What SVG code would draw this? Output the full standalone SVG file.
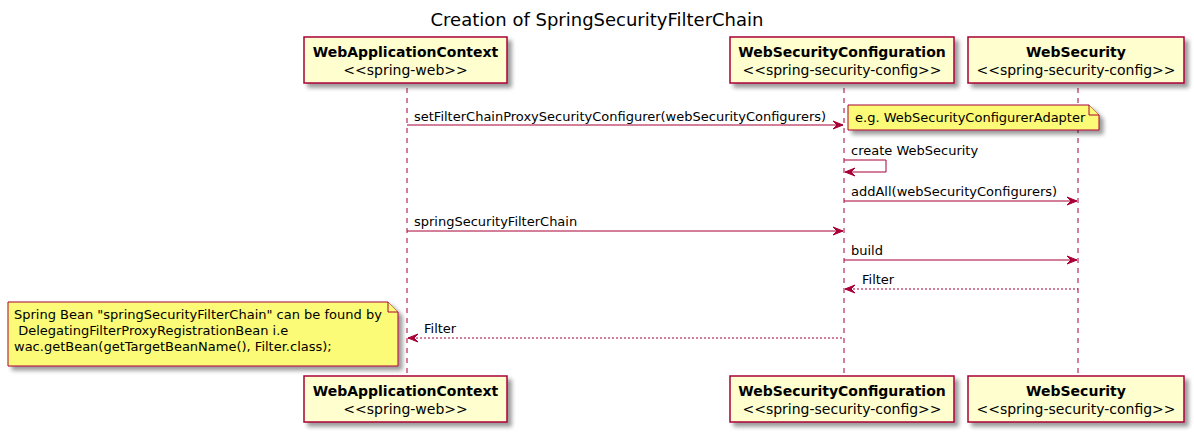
<svg xmlns="http://www.w3.org/2000/svg" width="1194" height="432" viewBox="0 0 1194 432">
<style>
text{font-family:"DejaVu Sans","Verdana",sans-serif;fill:#000}
.title{font-size:18px}
.pname{font-size:14px;font-weight:bold}
.stereo{font-size:14px}
.msg{font-size:13px}
.pbox{fill:#FEFECE;stroke:#A80036;stroke-width:1.5}
.note{fill:#FBFB77;stroke:#A80036;stroke-width:1}
.life{stroke:#A80036;stroke-width:1;stroke-dasharray:5,5;fill:none}
.line{stroke:#A80036;stroke-width:1;fill:none}
.dash{stroke:#A80036;stroke-width:1;fill:none;stroke-dasharray:2,2}
.head{fill:#A80036;stroke:#A80036;stroke-width:1}
</style>
<defs>
<filter id="sh" x="-10%" y="-10%" width="130%" height="150%">
<feGaussianBlur in="SourceAlpha" stdDeviation="2"/>
<feOffset dx="4" dy="4" result="b"/>
<feComponentTransfer><feFuncA type="linear" slope="0.4"/></feComponentTransfer>
<feMerge><feMergeNode/><feMergeNode in="SourceGraphic"/></feMerge>
</filter>
</defs>
<rect width="1194" height="432" fill="#FFFFFF"/>
<text class="title" x="597" y="26" text-anchor="middle">Creation of SpringSecurityFilterChain</text>

<g id="lifelines">
<line class="life" x1="407" y1="88" x2="407" y2="376"/>
<line class="life" x1="844" y1="88" x2="844" y2="376"/>
<line class="life" x1="1078" y1="88" x2="1078" y2="376"/>
</g>

<g id="p-wac-top">
<rect class="pbox" x="304" y="37" width="203" height="46" filter="url(#sh)"/>
<text class="pname" x="405.5" y="57" text-anchor="middle">WebApplicationContext</text>
<text class="stereo" x="405.5" y="75" text-anchor="middle">&lt;&lt;spring-web&gt;&gt;</text>
</g>
<g id="p-wsc-top">
<rect class="pbox" x="730" y="37" width="224" height="46" filter="url(#sh)"/>
<text class="pname" x="842" y="57" text-anchor="middle">WebSecurityConfiguration</text>
<text class="stereo" x="842" y="75" text-anchor="middle">&lt;&lt;spring-security-config&gt;&gt;</text>
</g>
<g id="p-ws-top">
<rect class="pbox" x="968" y="37" width="216" height="46" filter="url(#sh)"/>
<text class="pname" x="1076" y="57" text-anchor="middle">WebSecurity</text>
<text class="stereo" x="1076" y="75" text-anchor="middle">&lt;&lt;spring-security-config&gt;&gt;</text>
</g>

<g id="p-wac-bottom">
<rect class="pbox" x="304" y="376" width="203" height="46" filter="url(#sh)"/>
<text class="pname" x="405.5" y="396" text-anchor="middle">WebApplicationContext</text>
<text class="stereo" x="405.5" y="414" text-anchor="middle">&lt;&lt;spring-web&gt;&gt;</text>
</g>
<g id="p-wsc-bottom">
<rect class="pbox" x="730" y="376" width="224" height="46" filter="url(#sh)"/>
<text class="pname" x="842" y="396" text-anchor="middle">WebSecurityConfiguration</text>
<text class="stereo" x="842" y="414" text-anchor="middle">&lt;&lt;spring-security-config&gt;&gt;</text>
</g>
<g id="p-ws-bottom">
<rect class="pbox" x="968" y="376" width="216" height="46" filter="url(#sh)"/>
<text class="pname" x="1076" y="396" text-anchor="middle">WebSecurity</text>
<text class="stereo" x="1076" y="414" text-anchor="middle">&lt;&lt;spring-security-config&gt;&gt;</text>
</g>

<g id="connectors">
<line class="line" x1="407" y1="125" x2="843" y2="125"/>
<polygon class="head" points="833,121 843,125 833,129 837,125"/>
<text class="msg" x="414" y="121">setFilterChainProxySecurityConfigurer(webSecurityConfigurers)</text>

<polyline class="line" points="844,160 886,160 886,172 845,172"/>
<polygon class="head" points="855,168 845,172 855,176 851,172"/>
<text class="msg" x="851" y="155">create WebSecurity</text>

<line class="line" x1="844" y1="201" x2="1077" y2="201"/>
<polygon class="head" points="1067,197 1077,201 1067,205 1071,201"/>
<text class="msg" x="851" y="196">addAll(webSecurityConfigurers)</text>

<line class="line" x1="407" y1="231" x2="843" y2="231"/>
<polygon class="head" points="833,227 843,231 833,235 837,231"/>
<text class="msg" x="414" y="226">springSecurityFilterChain</text>

<line class="line" x1="844" y1="260" x2="1077" y2="260"/>
<polygon class="head" points="1067,256 1077,260 1067,264 1071,260"/>
<text class="msg" x="851" y="255">build</text>

<line class="dash" x1="845" y1="289" x2="1078" y2="289"/>
<polygon class="head" points="855,285 845,289 855,293 851,289"/>
<text class="msg" x="862" y="284">Filter</text>

<line class="dash" x1="408" y1="338" x2="844" y2="338"/>
<polygon class="head" points="418,334 408,338 418,342 414,338"/>
<text class="msg" x="424" y="333">Filter</text>
</g>

<g id="note-adapter">
<path class="note" d="M848,105 L1089,105 L1099,115 L1099,130 L848,130 Z" filter="url(#sh)"/>
<path class="note" d="M1089,105 L1089,115 L1099,115"/>
<text class="msg" x="855" y="122">e.g. WebSecurityConfigurerAdapter</text>
</g>

<g id="note-bean">
<path class="note" d="M8,302 L388,302 L398,312 L398,366 L8,366 Z" filter="url(#sh)"/>
<path class="note" d="M388,302 L388,312 L398,312"/>
<text class="msg" x="14" y="319">Spring Bean "springSecurityFilterChain" can be found by</text>
<text class="msg" x="14" y="335" xml:space="preserve"> DelegatingFilterProxyRegistrationBean i.e</text>
<text class="msg" x="14" y="351">wac.getBean(getTargetBeanName(), Filter.class);</text>
</g>
</svg>
